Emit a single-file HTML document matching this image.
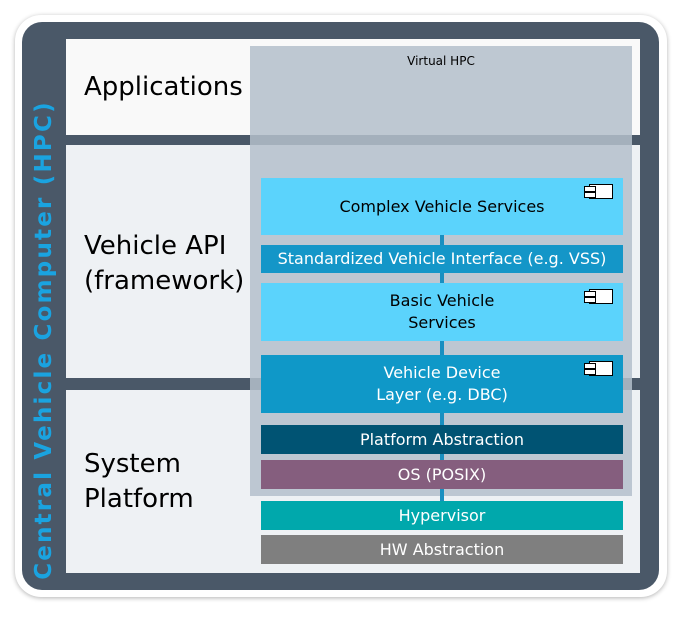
<!DOCTYPE html><html><head><style>
body{margin:0;width:677px;height:611px;background:#fff;position:relative;font-family:"DejaVu Sans","Liberation Sans",sans-serif;overflow:hidden}
div{position:absolute;box-sizing:border-box}
.b{left:261px;width:362px;display:flex;align-items:center;justify-content:center;text-align:center;font-size:16px;line-height:22px;color:#fff}
.lab{font-size:26px;color:#000;line-height:35px;left:84px}
.ic{right:10px;top:6px;width:24px;height:15px;border:1.5px solid #000;background:#fff}
.ic:before,.ic:after{content:"";position:absolute;left:-6px;width:10px;height:4px;border:1.5px solid #000;background:#fff}
.ic:before{top:1px}.ic:after{top:7px}
</style></head><body>
<div style="left:15px;top:15px;width:652px;height:582px;border-radius:26px;background:#fff;box-shadow:0 1px 5px rgba(0,0,0,.3)"></div>
<div style="left:22px;top:22px;width:637px;height:568px;border-radius:20px;background:#4a5868"></div>
<div style="left:66px;top:39px;width:574px;height:96px;background:#f9f9f9"></div>
<div style="left:66px;top:145px;width:574px;height:233px;background:#eef1f4"></div>
<div style="left:66px;top:390px;width:574px;height:183px;background:#eef1f4"></div>
<div style="left:250px;top:46px;width:382px;height:450px;background:rgba(180,192,203,.85)"></div>
<div class="lab" style="top:70px">Applications</div>
<div class="lab" style="top:229px">Vehicle API<br>(framework)</div>
<div class="lab" style="top:447px">System<br>Platform</div>
<div style="left:250px;top:54px;width:382px;text-align:center;font-size:12px">Virtual HPC</div>
<div style="left:44px;top:340px;width:0;height:0"><div style="left:-280px;top:-15px;width:560px;height:30px;transform:rotate(-90deg);text-align:center;font-size:23px;letter-spacing:2.2px;font-weight:bold;color:#1aa3e0;line-height:30px">Central Vehicle Computer (HPC)</div></div>
<div style="left:440px;top:230px;width:4px;height:275px;background:#1a8fc0"></div>
<div class="b" style="top:178px;height:57px;background:#5bd3fc;color:#000">Complex Vehicle Services<div class="ic"></div></div>
<div class="b" style="top:245px;height:28px;background:#1496c8">Standardized Vehicle Interface (e.g. VSS)</div>
<div class="b" style="top:283px;height:58px;background:#5bd3fc;color:#000">Basic Vehicle<br>Services<div class="ic"></div></div>
<div class="b" style="top:355px;height:58px;background:#0f98c8">Vehicle Device<br>Layer (e.g. DBC)<div class="ic"></div></div>
<div class="b" style="top:425px;height:29px;background:#005373">Platform Abstraction</div>
<div class="b" style="top:460px;height:29px;background:#855e7e">OS (POSIX)</div>
<div class="b" style="top:501px;height:29px;background:#00a8ac">Hypervisor</div>
<div class="b" style="top:535px;height:29px;background:#7f7f7f">HW Abstraction</div>
</body></html>
